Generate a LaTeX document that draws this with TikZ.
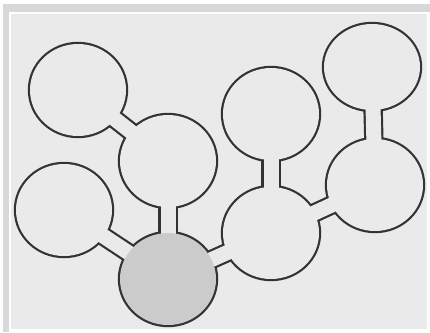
\documentclass[tikz,border=0pt]{standalone}
\usetikzlibrary{shapes.geometric}
\pgfdeclarelayer{bglayer}
\pgfdeclarelayer{strokes}
\pgfdeclarelayer{fills}
\pgfsetlayers{bglayer,strokes,fills,main}
\definecolor{panel}{HTML}{EAEAEA}
\definecolor{shadowc}{HTML}{D8D8D8}
\definecolor{ink}{HTML}{333333}
\definecolor{core}{HTML}{CBCBCB}
\tikzset{
  bubble/.style={ellipse, inner sep=0pt, minimum width=96pt, minimum height=92pt, fill=panel},
  corebubble/.style={bubble, fill=core},
  ring/.style={draw=ink, line width=4.4pt},
  neckout/.style={draw=ink, line width=19.4pt},
  neckin/.style={draw=panel, line width=15pt}
}
\begin{document}
\begin{tikzpicture}[x=1pt,y=-1pt]
\useasboundingbox (0,0) rectangle (430,332);
\begin{pgfonlayer}{bglayer}
  \fill[white] (0,0) rectangle (430,332);
  \fill[shadowc] (3,4) rectangle (430,332);
  \fill[white] (9,12) rectangle (430,332);
  \fill[panel] (11,14) rectangle (427,329);
\end{pgfonlayer}
% bubbles
\node[bubble] (c1) at (78,90) {};
\node[bubble] (c2) at (168,161) {};
\node[bubble] (c3) at (64,210) {};
\node[corebubble] (c4) at (168,279) {};
\node[bubble] (c5) at (271,114) {};
\node[bubble, minimum height=86pt] (c6) at (372,67) {};
\node[bubble] (c7) at (271,233) {};
\node[bubble] (c8) at (375,185) {};
% outlines
\begin{pgfonlayer}{strokes}
  \foreach \n in {c1,c2,c3,c4,c5,c7,c8}
    \draw[ring] (\n.center) ellipse [x radius=48, y radius=46];
  \draw[ring] (c6.center) ellipse [x radius=48, y radius=43];
  \foreach \a/\b in {c1/c2,c2/c4,c3/c4,c4/c7,c5/c7,c7/c8,c6/c8}
    \draw[neckout] (\a.center) -- (\b.center);
\end{pgfonlayer}
\begin{pgfonlayer}{fills}
  \foreach \a/\b in {c1/c2,c2/c4,c3/c4,c4/c7,c5/c7,c7/c8,c6/c8}
    \draw[neckin] (\a.center) -- (\b.center);
\end{pgfonlayer}
\end{tikzpicture}
\end{document}
